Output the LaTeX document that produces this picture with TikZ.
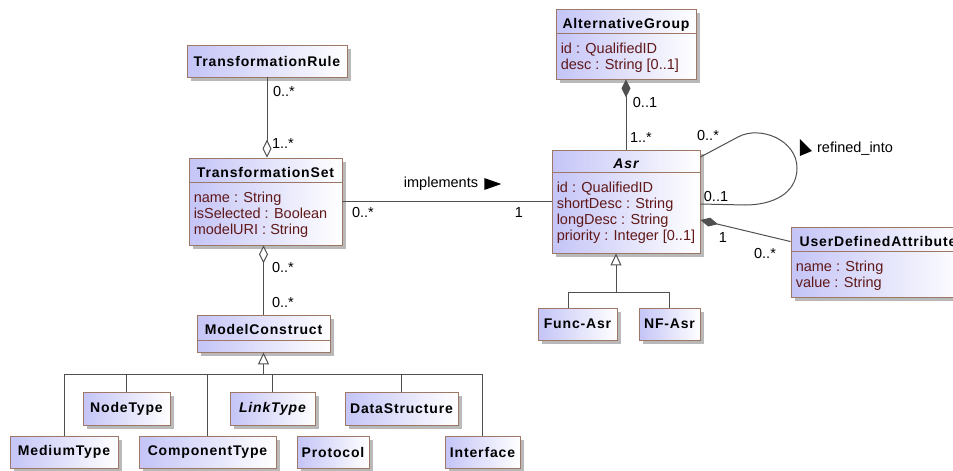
\documentclass[tikz,border=0pt]{standalone}
\usepackage{fontspec}
\setmainfont{Liberation Sans}
\newfontfamily\titlefamily[LetterSpace=6.0]{Liberation Sans}
\usepackage{tikz}
\usetikzlibrary{arrows.meta,positioning,calc,shadows}
\definecolor{classBlue}{RGB}{196,196,247}
\definecolor{classBorder}{RGB}{158,120,102}
\definecolor{attrRed}{RGB}{96,24,24}
\definecolor{lineGray}{RGB}{80,80,80}

\begin{document}
\begin{tikzpicture}[x=1pt,y=1pt,
    clsbox/.style={draw=classBorder,line width=0.9pt,left color=classBlue,right color=white,
                   drop shadow={shadow xshift=3.5pt,shadow yshift=-3.5pt,fill=black!50,opacity=0.55},
                   inner sep=0pt,font=\titlefamily\bfseries\fontsize{14}{16}\selectfont},
    clshead/.style={clsbox,text height=19pt},
    clssep/.style={draw=classBorder,line width=0.9pt},
    clsattr/.style={font=\fontsize{14.5}{16.2}\selectfont,text=attrRed,align=left,
                    anchor=north west,inner sep=0pt},
    mult/.style={font=\fontsize{14.5}{16}\selectfont,inner sep=0pt},
    assoc/.style={draw=lineGray,line width=1pt},
    aggr/.style={assoc,-{Diamond[open,fill=white,length=18pt,width=9pt]}},
    comp/.style={assoc,-{Diamond[length=18pt,width=9pt]}},
    gen/.style={assoc,-{Triangle[open,fill=white,length=12pt,width=11pt]}}
  ]
  \useasboundingbox (0,0) rectangle (953,-471);

  % transformation side
  \node[clsbox,minimum width=160pt,minimum height=32pt] (trule) at (267,-61) {TransformationRule};
  \node[clshead,minimum width=153pt,text depth=68pt] (tset) at (265.5,-201.5) {TransformationSet};
  \draw[clssep] ([yshift=-25pt]tset.north west) -- ([yshift=-25pt]tset.north east);
  \node[clsattr] (tsetAttr) at ([xshift=5pt,yshift=-34pt]tset.north west)
    {name : String\\isSelected : Boolean\\modelURI : String};
  \node[clshead,minimum width=133pt,text depth=18pt] (mcon) at (263.5,-333.5) {ModelConstruct};
  \draw[clssep] ([yshift=-26pt]mcon.north west) -- ([yshift=-26pt]mcon.north east);

  % model constructs
  \node[clsbox,minimum width=87pt,minimum height=33pt] (nodetype) at (126.5,-408.5) {NodeType};
  \node[clsbox,minimum width=85pt,minimum height=33pt] (linktype) at (272.5,-408.5) {\itshape LinkType};
  \node[clsbox,minimum width=113pt,minimum height=33pt] (datastr) at (401.5,-408.5) {DataStructure};
  \node[clsbox,minimum width=108pt,minimum height=32pt] (medium) at (64,-452) {MediumType};
  \node[clsbox,minimum width=137pt,minimum height=32pt] (comptype) at (207.5,-452) {ComponentType};
  \node[clsbox,minimum width=72pt,minimum height=32pt] (protocol) at (333,-452) {Protocol};
  \node[clsbox,minimum width=75pt,minimum height=32pt] (interface) at (482.5,-452) {Interface};

  % requirement side
  \node[clshead,minimum width=140pt,text depth=51pt] (altgroup) at (626,-44) {AlternativeGroup};
  \draw[clssep] ([yshift=-25pt]altgroup.north west) -- ([yshift=-25pt]altgroup.north east);
  \node[clsattr] (altgroupAttr) at ([xshift=5pt,yshift=-34pt]altgroup.north west)
    {id : QualifiedID\\desc : String [0..1]};
  \node[clshead,minimum width=148pt,text height=18pt,text depth=85pt] (asr) at (626,-201.5) {\itshape Asr};
  \draw[clssep] ([yshift=-23pt]asr.north west) -- ([yshift=-23pt]asr.north east);
  \node[clsattr] (asrAttr) at ([xshift=5pt,yshift=-32pt]asr.north west)
    {id : QualifiedID\\shortDesc : String\\longDesc : String\\priority : Integer [0..1]};
  \node[clshead,minimum width=174pt,text depth=51pt] (udattr) at (878,-262) {UserDefinedAttribute};
  \draw[clssep] ([yshift=-25pt]udattr.north west) -- ([yshift=-25pt]udattr.north east);
  \node[clsattr] (udattrAttr) at ([xshift=5pt,yshift=-34pt]udattr.north west)
    {name : String\\value : String};
  \node[clsbox,minimum width=79pt,minimum height=32pt] (funcasr) at (577.5,-324) {Func-Asr};
  \node[clsbox,minimum width=61pt,minimum height=32pt] (nfasr) at (669.5,-324) {NF-Asr};

  % associations
  \draw[aggr] (trule.south) -- (trule.south |- tset.north);
  \node[mult] (truleMult) at (284,-92) {0..*};
  \node[mult] (tsetRuleMult) at (283,-144) {1..*};

  \draw[aggr] (mcon.north) -- (mcon.north |- tset.south);
  \node[mult] (tsetMconMult) at (283,-268) {0..*};
  \node[mult] (mconMult) at (283,-303) {0..*};

  \draw[assoc] (tset.east) -- (asr.west);
  \node[mult] (implLabel) at (441,-184) {implements};
  \fill ([xshift=6pt,yshift=6pt]implLabel.east) -- ++(0,-12) -- ++(17,6) -- cycle;
  \node[mult] (tsetImplMult) at (363,-213) {0..*};
  \node[mult] (asrImplMult) at (519,-213) {1};

  \draw[comp] (asr.north) -- (altgroup.south);
  \node[mult] (altgroupMult) at (645,-103) {0..1};
  \node[mult] (asrGroupMult) at (641,-138) {1..*};

  % refined_into
  \draw[assoc] ([yshift=44.5pt]asr.east) -- (738,-137)
    .. controls (760,-125) and (797,-140) .. (797,-168)
    .. controls (797,-194) and (772,-205) .. (745,-205) -- ([yshift=-2.5pt]asr.east);
  \node[mult] (refineTopMult) at (708,-136) {0..*};
  \node[mult] (refineLowMult) at (716,-197) {0..1};
  \node[mult] (refineLabel) at (855,-149) {refined\_into};
  \fill ([xshift=-17pt,yshift=10pt]refineLabel.west) -- ++(0,-17) -- ++(12,5) -- cycle;

  \draw[comp] ([yshift=-15pt]udattr.north west) -- ([yshift=-18.5pt]asr.east);
  \node[mult] (asrAttrMult) at (723,-238) {1};
  \node[mult] (udattrMult) at (765,-254) {0..*};

  % generalizations
  \coordinate (mconBus) at ([yshift=-22pt]mcon.south);
  \draw[gen] (mconBus) -- (mcon.south);
  \draw[assoc] (medium.north) |- (mconBus);
  \draw[assoc] (nodetype.north) |- (mconBus);
  \draw[assoc] (comptype.north) |- (mconBus);
  \draw[assoc] (linktype.north) |- (mconBus);
  \draw[assoc] (datastr.north) |- (mconBus);
  \draw[assoc] (interface.north) |- (mconBus);

  \coordinate (asrBus) at ([xshift=-10pt,yshift=-39pt]asr.south);
  \draw[gen] (asrBus) -- (asrBus |- asr.south);
  \draw[assoc] ([xshift=-9.5pt]funcasr.north) |- (asrBus);
  \draw[assoc] (nfasr.north) |- (asrBus);
\end{tikzpicture}
\end{document}
